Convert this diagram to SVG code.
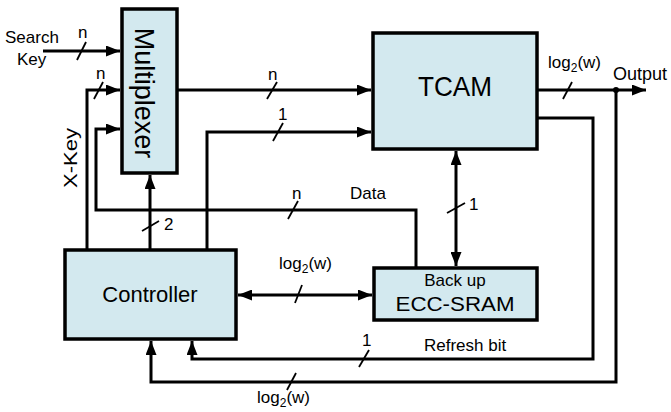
<svg xmlns="http://www.w3.org/2000/svg" width="671" height="412" viewBox="0 0 671 412">
  <style>
    .box { fill: #d3e9ef; stroke: #000; stroke-width: 3.5; }
    .wire { fill: none; stroke: #000; stroke-width: 3; }
    .arr { marker-end: url(#ah); }
    .both { marker-start: url(#ahs); marker-end: url(#ah); }
    .tick { stroke: #000; stroke-width: 1.8; fill: none; }
    text { font-family: "Liberation Sans", Arial, sans-serif; fill: #000; }
    .lbl { font-size: 17px; }
    .bus { font-size: 17px; }
    .sub { font-size: 12px; }
  </style>
  <defs>
    <marker id="ah" markerUnits="userSpaceOnUse" markerWidth="15" markerHeight="11" refX="14" refY="5.5" orient="auto">
      <path d="M0,0 L14,5.5 L0,11 z" fill="#000"/>
    </marker>
    <marker id="ahs" markerUnits="userSpaceOnUse" markerWidth="15" markerHeight="11" refX="0" refY="5.5" orient="auto">
      <path d="M14,0 L0,5.5 L14,11 z" fill="#000"/>
    </marker>
  </defs>

  <!-- connectors -->
  <g id="connectors">
    <!-- search key into multiplexer -->
    <path class="wire arr" d="M43,51 H120"/>
    <!-- X-Key feedback from controller -->
    <path class="wire arr" d="M87,250 V90 H120"/>
    <!-- data from ECC-SRAM back to multiplexer -->
    <path class="wire arr" d="M416,268 V210 H96 V129 H120"/>
    <!-- controller select to multiplexer -->
    <path class="wire arr" d="M150,250 V175"/>
    <!-- multiplexer to TCAM -->
    <path class="wire arr" d="M177,90 H371"/>
    <!-- controller control bit to TCAM -->
    <path class="wire arr" d="M207,250 V132 H371"/>
    <!-- TCAM output -->
    <path class="wire arr" d="M537,90 H646"/>
    <circle cx="616" cy="90" r="3" fill="#000"/>
    <!-- refresh bit back to controller -->
    <path class="wire arr" d="M537,118 H593 V359 H192 V341"/>
    <!-- output fed back to controller -->
    <path class="wire arr" d="M616,90 V382 H151 V341"/>
    <!-- TCAM <-> ECC-SRAM -->
    <path class="wire both" d="M456,151 V266"/>
    <!-- controller <-> ECC-SRAM -->
    <path class="wire both" d="M238,295 H372"/>

    <!-- bus width ticks -->
    <line class="tick" x1="77" y1="60" x2="86" y2="42"/>
    <line class="tick" x1="94" y1="99" x2="103" y2="82"/>
    <line class="tick" x1="267" y1="99" x2="277" y2="82"/>
    <line class="tick" x1="273" y1="141" x2="283" y2="123"/>
    <line class="tick" x1="288" y1="219" x2="298" y2="201"/>
    <line class="tick" x1="142" y1="231" x2="159" y2="221"/>
    <line class="tick" x1="447" y1="213" x2="465" y2="203"/>
    <line class="tick" x1="563" y1="99" x2="572" y2="82"/>
    <line class="tick" x1="295" y1="303" x2="302" y2="285"/>
    <line class="tick" x1="359" y1="367" x2="369" y2="350"/>
    <line class="tick" x1="287" y1="390" x2="296" y2="373"/>
  </g>

  <!-- connector labels -->
  <g id="labels">
    <text class="lbl" x="5" y="43">Search</text>
    <text class="lbl" x="17" y="65">Key</text>
    <text class="bus" x="78" y="38">n</text>
    <text class="bus" x="96" y="79">n</text>
    <text class="bus" x="268" y="80">n</text>
    <text class="bus" x="278" y="120">1</text>
    <text class="bus" x="292" y="199">n</text>
    <text class="lbl" x="350" y="199">Data</text>
    <text class="bus" x="164" y="230">2</text>
    <text class="bus" x="469" y="210">1</text>
    <text class="lbl" x="548" y="68">log<tspan class="sub" dy="4">2</tspan><tspan dy="-4">(w)</tspan></text>
    <text x="613" y="80" font-size="18">Output</text>
    <text class="lbl" x="279" y="269">log<tspan class="sub" dy="4">2</tspan><tspan dy="-4">(w)</tspan></text>
    <text class="bus" x="362" y="346">1</text>
    <text class="lbl" x="424" y="351">Refresh bit</text>
    <text class="lbl" x="257" y="403">log<tspan class="sub" dy="4">2</tspan><tspan dy="-4">(w)</tspan></text>
    <text transform="translate(77,158) rotate(-90)" text-anchor="middle" font-size="18" textLength="60" lengthAdjust="spacingAndGlyphs">X-Key</text>
  </g>

  <g id="multiplexer">
    <rect class="box" x="122" y="9" width="55" height="164"/>
    <text transform="translate(135,93) rotate(90)" text-anchor="middle" font-size="27">Multiplexer</text>
  </g>

  <g id="tcam">
    <rect class="box" x="373" y="33" width="164" height="116"/>
    <text x="455" y="96" text-anchor="middle" font-size="28" textLength="74" lengthAdjust="spacingAndGlyphs">TCAM</text>
  </g>

  <g id="controller">
    <rect class="box" x="65" y="250" width="171" height="89"/>
    <text x="150" y="302" text-anchor="middle" font-size="22">Controller</text>
  </g>

  <g id="ecc-sram">
    <rect class="box" x="374" y="268" width="163" height="52"/>
    <text x="455" y="286" text-anchor="middle" font-size="17">Back up</text>
    <text x="455" y="311" text-anchor="middle" font-size="20" textLength="119" lengthAdjust="spacingAndGlyphs">ECC-SRAM</text>
  </g>
</svg>
